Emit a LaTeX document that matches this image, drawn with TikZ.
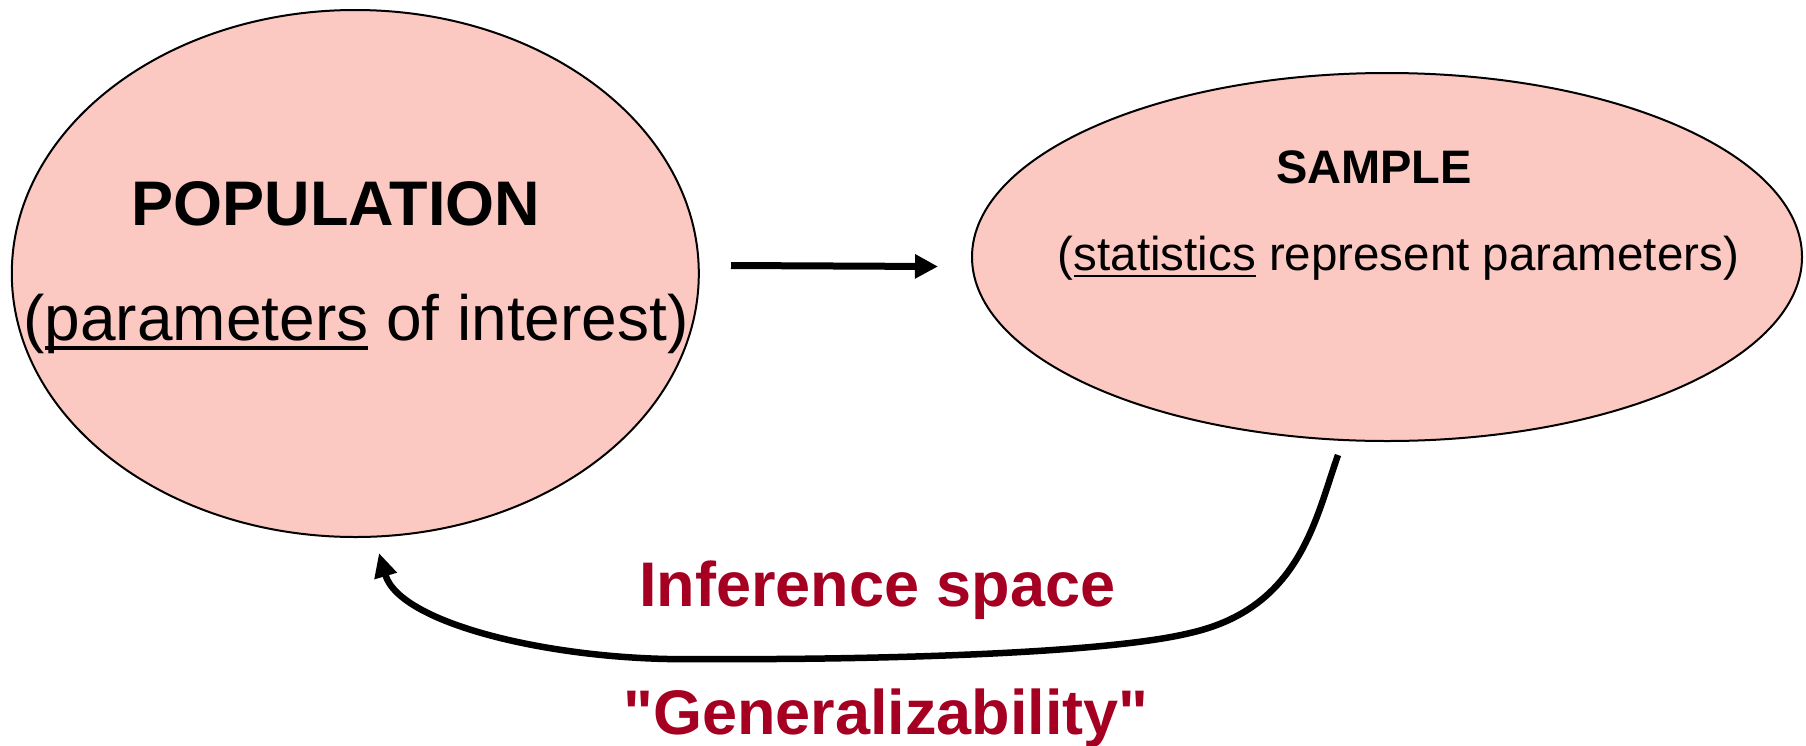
\documentclass[tikz,border=0pt]{standalone}
\usepackage{fontspec}
\setmainfont{Liberation Sans}
\newfontfamily\qfont{Liberation Sans}[Ligatures=TeXOff]
\usetikzlibrary{shapes.geometric,arrows.meta}
\definecolor{pinkfill}{RGB}{252,200,194}
\definecolor{darkred}{RGB}{165,0,33}
\newcommand{\myuline}[1]{\leavevmode\setbox0=\hbox{#1}\rlap{\copy0}\rule[-0.15em]{\wd0}{0.05em}}
\newcommand{\sq}{{\qfont\bfseries "}}
\tikzset{
  blob/.style={ellipse, draw=black, line width=2pt, fill=pinkfill, inner sep=0pt},
  bigtitle/.style={anchor=base, inner sep=0pt, font=\fontsize{63}{70}\selectfont\bfseries},
  smalltitle/.style={anchor=base, inner sep=0pt, font=\fontsize{47}{56}\selectfont\bfseries},
  bigtext/.style={anchor=base, inner sep=0pt, font=\fontsize{64}{70}\selectfont},
  smalltext/.style={anchor=base, inner sep=0pt, font=\fontsize{47.5}{56}\selectfont},
  redlabel/.style={anchor=base, inner sep=0pt, text=darkred, font=\fontsize{63}{72}\selectfont\bfseries},
  thickarrow/.style={line width=7pt, -{Triangle[length=23pt,width=23pt]}},
  curvearrow/.style={line width=6.5pt, -{Triangle[length=24pt,width=22pt]}}
}
\begin{document}
\begin{tikzpicture}[x=1pt,y=-1pt]
\useasboundingbox (0,0) rectangle (1806,745);
% ellipses
\node[blob, minimum width=687pt, minimum height=527pt] (pop) at (355.3,273.5) {};
\node[blob, minimum width=830pt, minimum height=368pt] (samp) at (1387,257) {};
% texts
\node[bigtitle] (poptitle) at (336,225) {POPULATION};
\node[bigtext] (poptext) at (356,340) {(\myuline{parameters} of interest)};
\node[smalltitle] (samptitle) at (1374,183) {SAMPLE};
\node[smalltext] (samptext) at (1398.5,270) {(\myuline{statistics} represent parameters)};
\node[redlabel] (inf) at (877.5,606) {Inference space};
\node[redlabel] (gen) at (886,734) {\sq Generalizability\sq};
% straight arrow
\coordinate (a1) at (731,265.5);
\coordinate (a2) at (938,266.5);
\draw[thickarrow] (a1) -- (a2);
% curved arrow
\coordinate (c0) at (1338,455);
\coordinate (c1) at (1190,633);
\coordinate (c2) at (700,659);
\coordinate (c3) at (379,553);
\draw[curvearrow] (c0) .. controls (1315,520) and (1300,608) .. (c1)
  .. controls (1100,655) and (850,660) .. (c2)
  .. controls (560,662) and (400,625) .. (c3);
\end{tikzpicture}
\end{document}
